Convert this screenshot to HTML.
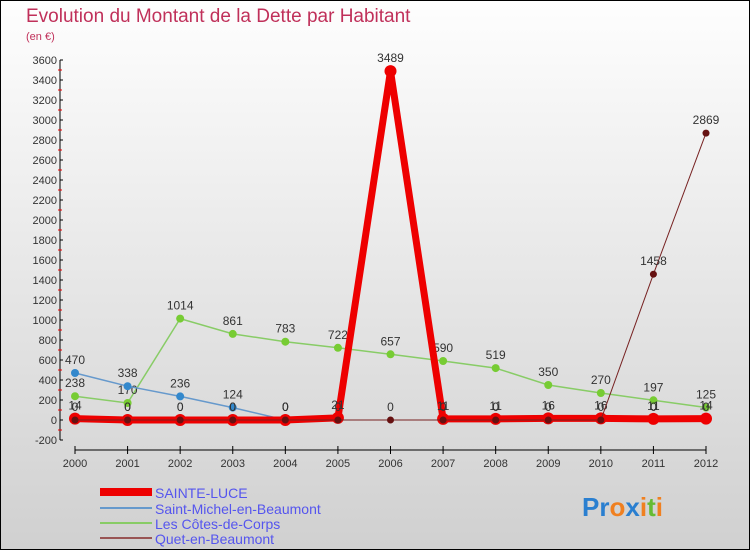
<!DOCTYPE html>
<html><head><meta charset="utf-8"><style>
html,body{margin:0;padding:0}
body{width:750px;height:550px;overflow:hidden;font-family:"Liberation Sans",sans-serif}
</style></head><body>
<svg width="750" height="550" xmlns="http://www.w3.org/2000/svg">
<defs><linearGradient id="bg" x1="0" y1="0" x2="0" y2="1"><stop offset="0" stop-color="#fefefe"/><stop offset="1" stop-color="#d0d0d0"/></linearGradient></defs>
<rect x="0.5" y="0.5" width="749" height="549" fill="url(#bg)" stroke="#000"/>
<text x="26" y="22" font-size="19" fill="#c0305a">Evolution du Montant de la Dette par Habitant</text>
<text x="26" y="40" font-size="11" fill="#c0305a">(en €)</text>
<g id="axes"></g>
<g id="series"></g>
<g id="legend">
<rect x="100" y="488" width="52" height="8" fill="#e00"/>
<text x="155" y="498" font-size="14" fill="#5555ee">SAINTE-LUCE</text>
<rect x="100" y="507" width="52" height="2" fill="#6699cc"/>
<text x="155" y="514" font-size="14" fill="#5555ee">Saint-Michel-en-Beaumont</text>
<rect x="100" y="522" width="52" height="2" fill="#88cc66"/>
<text x="155" y="529" font-size="14" fill="#5555ee">Les Côtes-de-Corps</text>
<rect x="100" y="537" width="52" height="2" fill="#995555"/>
<text x="155" y="544" font-size="14" fill="#5555ee">Quet-en-Beaumont</text>
</g>
<text x="582" y="516" font-size="26" font-weight="bold"><tspan fill="#2a7fd0">Pr</tspan><tspan fill="#f08020">o</tspan><tspan fill="#2a7fd0">x</tspan><tspan fill="#f08020">i</tspan><tspan fill="#66bb33">t</tspan><tspan fill="#f08020">i</tspan></text>
</svg>
<script>
const years=[2000,2001,2002,2003,2004,2005,2006,2007,2008,2009,2010,2011,2012];
const yTicks=[-200,0,200,400,600,800,1000,1200,1400,1600,1800,2000,2200,2400,2600,2800,3000,3200,3400,3600];
const sainteLuce=[14,0,0,0,0,21,3489,11,11,16,16,11,14];
const saintMichel=[470,338,236,124,0,null,null,null,null,null,null,0,0];
const cotes=[238,170,1014,861,783,722,657,590,519,350,270,197,125];
const quet=[0,0,0,0,0,0,0,0,0,0,0,1458,2869];
const NS="http://www.w3.org/2000/svg";
const xS=i=>75+i*(706-75)/12;
const yS=v=>420-v*0.1;
function mk(tag,attrs,parent){const e=document.createElementNS(NS,tag);for(const k in attrs)e.setAttribute(k,attrs[k]);parent.appendChild(e);return e;}
const axes=document.getElementById('axes');
let a=mk('line',{x1:60,y1:yS(3600),x2:60,y2:yS(-200),stroke:'#000'},axes);


yTicks.forEach((t,i)=>{
 mk('line',{x1:60,y1:yS(t),x2:63,y2:yS(t),stroke:'#000'},axes);
 if(i<yTicks.length-1)mk('line',{x1:58,y1:yS(t+100),x2:62,y2:yS(t+100),stroke:'#e00'},axes);
 const tx=mk('text',{x:57,y:yS(t)+4,'font-size':11,'text-anchor':'end',fill:'#333'},axes);
 tx.textContent=t;
 
 
});
let xa=mk('line',{x1:75,y1:450,x2:706,y2:450,stroke:'#000'},axes);


years.forEach((y,i)=>{
 mk('line',{x1:xS(i),y1:446,x2:xS(i),y2:454,stroke:'#000'},axes);
 const tx=mk('text',{x:xS(i),y:467,'font-size':11,'text-anchor':'middle',fill:'#333'},axes);
 tx.textContent=y;
 
 
});
const sg=document.getElementById('series');
function series(vals,name,color,w,r,dot,labelColor){
 const g=mk('g',{},sg);
 
 
 let d='',pen=false;
 vals.forEach((v,i)=>{if(v===null){pen=false;return;}d+=(pen?'L':'M')+xS(i)+','+yS(v);pen=true;});
 mk('path',{d:d,fill:'none',stroke:color,'stroke-width':w},g);
 vals.forEach((v,i)=>{if(v===null)return;
  const c=mk('circle',{cx:xS(i),cy:yS(v),r:r,fill:dot},g);
  
  
  const t=mk('text',{x:xS(i),y:yS(v)-9,'font-size':12,'text-anchor':'middle',fill:'#333'},g);
  t.textContent=v;
  
  
 });
}
series(cotes,'cotes-de-corps','#88cc66',1.5,4,'#77cc33');
series(saintMichel,'saint-michel','#6699cc',1.5,4,'#3388cc');
series(sainteLuce,'sainte-luce','#ee0000',7,6,'#ee0000');
series(quet,'quet','#772222',1,3.5,'#661111');
</script>
</body></html>
